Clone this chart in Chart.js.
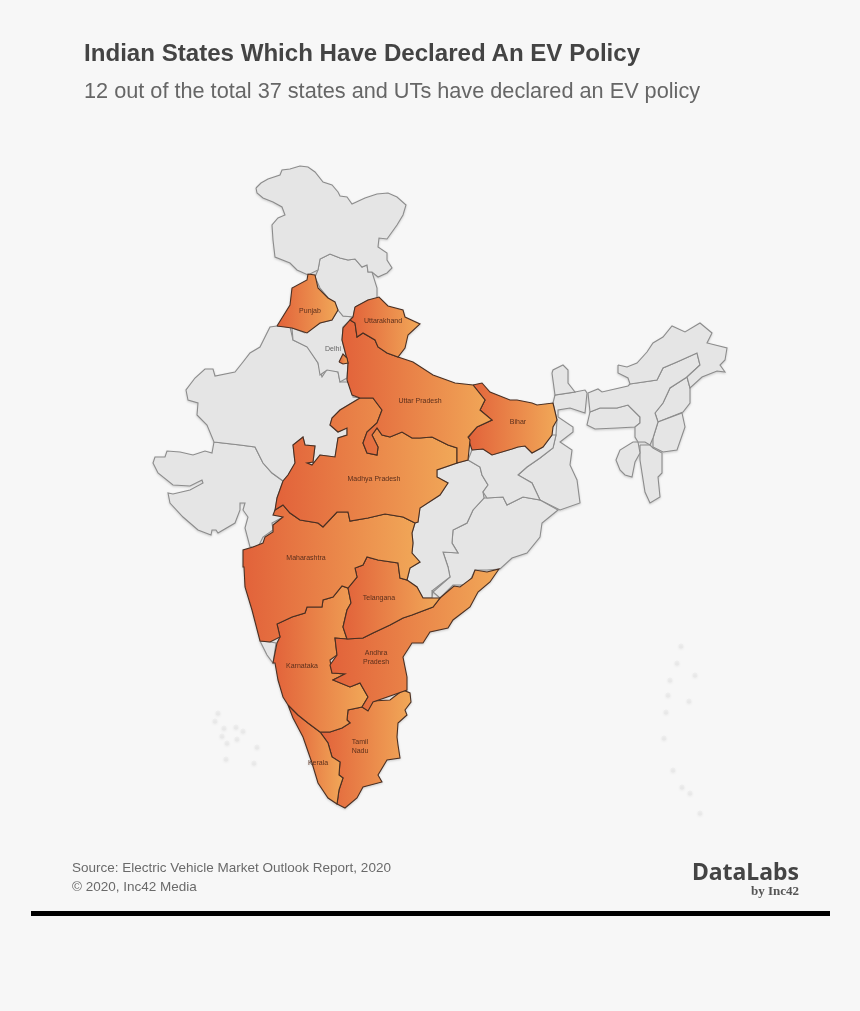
<!DOCTYPE html>
<html>
<head>
<meta charset="utf-8">
<title>Indian States Which Have Declared An EV Policy</title>
<script src="https://cdn.jsdelivr.net/npm/chart.js@4"></script>
<style>
html, body { margin: 0; padding: 0; background: #f7f7f7; }
body { width: 860px; height: 1011px; position: relative; overflow: hidden; font-family: "Liberation Sans", sans-serif; }
#map { position: absolute; left: 0; top: 0; filter: drop-shadow(0 1px 1px rgba(0,0,0,.18)); }
.txt { position: absolute; white-space: nowrap; }
#head { left: 84px; top: 39px; font-size: 24.1px; font-weight: bold; color: #444; }
#sub { left: 84px; top: 78px; font-size: 21.7px; color: #666; }
#src1 { left: 72px; top: 860px; font-size: 13.5px; color: #6a6a6a; }
#src2 { left: 72px; top: 879px; font-size: 13.5px; color: #6a6a6a; }
#logo1 { right: 61px; top: 855px; font-size: 23px; font-weight: bold; color: #444; font-family: "Noto Sans", sans-serif; }
#logo2 { right: 61px; top: 883px; font-size: 13px; font-weight: bold; color: #555; font-family: "Liberation Serif", serif; }
#rule { position: absolute; left: 31px; top: 911px; width: 799px; height: 5px; background: #000; }
</style>
</head>
<body>
<canvas id="map" width="860" height="1011"></canvas>
<div class="txt" id="head">Indian States Which Have Declared An EV Policy</div>
<div class="txt" id="sub">12 out of the total 37 states and UTs have declared an EV policy</div>
<div class="txt" id="src1">Source: Electric Vehicle Market Outlook Report, 2020</div>
<div class="txt" id="src2">© 2020, Inc42 Media</div>
<div class="txt" id="logo1">DataLabs</div>
<div class="txt" id="logo2">by Inc42</div>
<div id="rule"></div>
<script>
// outlines, as x,y map units
var jammuKashmir = [256,188,261,183,268,179,280,175,282,170,290,169,300,166,308,167,315,172,323,182,332,185,338,192,340,196,347,197,352,204,365,198,377,194,388,193,397,197,406,205,403,215,397,225,392,232,387,239,379,238,378,247,387,253,387,260,392,268,387,273,378,277,372,272,368,272,367,265,362,267,355,259,348,260,340,258,330,254,320,259,318,270,308,275,297,270,290,263,275,257,273,240,272,225,278,218,285,215,282,207,273,202,263,198,257,193,256,188];
var himachal = [318,270,320,259,330,254,340,258,348,260,355,259,362,267,367,265,368,272,372,272,377,288,377,300,368,300,355,307,353,317,343,316,338,310,330,300,320,288,315,277,318,270];
var haryana = [338,310,343,316,353,317,350,320,343,327,342,340,348,363,347,378,340,382,338,372,327,370,320,375,318,363,307,347,293,340,292,328,305,333,320,323,332,320,338,310];
var rajasthan = [277,326,270,327,266,335,260,347,250,353,243,362,235,372,215,376,213,369,205,369,195,378,186,390,188,400,198,403,197,415,207,425,214,442,240,445,255,447,263,463,272,473,283,481,288,475,295,463,293,445,303,437,305,445,315,446,313,462,307,463,312,465,320,455,335,457,338,438,347,435,347,428,338,432,330,425,332,418,340,410,360,398,353,397,352,385,347,382,340,382,338,372,328,368,322,377,318,363,308,347,293,340,290,327,277,326];
var gujarat = [214,442,212,453,205,451,193,455,180,452,167,451,165,457,155,457,153,463,158,473,173,485,190,486,202,480,203,483,190,490,173,494,168,493,170,503,183,517,198,530,211,535,212,530,216,530,218,533,235,523,240,510,240,503,245,503,243,510,248,517,245,528,250,547,258,547,263,537,273,530,272,523,283,517,275,513,277,498,283,481,272,473,263,463,255,447,240,445,214,442];
var goa = [260,641,270,642,276,643,273,663,267,655,260,641];
var jharkhand = [472,450,483,449,492,455,512,449,518,447,525,446,532,453,543,447,552,435,556,435,553,448,540,458,527,467,518,475,532,483,540,500,523,497,507,505,503,497,487,498,483,492,488,485,482,475,480,467,468,460,472,450];
var chhattisgarh = [457,463,468,460,480,467,482,475,488,485,483,492,484,498,473,510,467,523,453,530,452,543,458,553,443,552,448,567,450,577,433,590,432,598,423,598,417,587,407,580,410,568,420,562,412,553,413,543,412,533,415,523,418,522,420,508,440,495,448,483,437,477,437,470,457,463];
var odisha = [484,498,487,498,503,497,507,505,523,497,540,500,558,510,542,523,540,537,527,553,512,558,500,569,487,570,475,570,468,585,453,585,440,598,433,592,450,577,448,567,443,552,458,553,452,543,453,530,467,523,473,510,484,498];
var sikkim = [552,373,553,370,563,365,568,370,568,383,575,392,555,395,552,373];
var westBengal = [555,395,575,392,585,390,587,393,585,413,570,408,558,410,558,417,573,427,573,432,560,442,572,450,570,465,577,480,580,503,560,510,540,500,532,483,518,475,527,467,540,458,553,448,556,435,557,420,553,403,555,395];
var arunachal = [618,365,627,367,637,363,647,352,653,343,663,337,672,326,685,332,700,323,712,333,707,343,727,348,725,360,720,365,725,372,717,371,702,377,690,388,687,377,700,365,697,353,677,362,663,368,657,380,630,384,628,378,618,373,618,365];
var assam = [588,393,598,389,602,392,628,386,630,384,657,380,663,368,677,362,697,353,700,365,687,377,670,388,663,403,655,413,658,422,653,438,650,445,645,442,638,442,635,437,635,427,640,423,640,417,628,405,617,408,600,408,590,412,588,393];
var meghalaya = [590,412,600,408,617,408,628,405,640,417,640,423,635,427,617,428,595,429,587,425,590,412];
var tripura = [638,442,640,453,635,462,632,477,625,475,620,470,616,460,620,450,633,442,638,442];
var mizoram = [640,445,650,445,653,448,662,453,662,473,658,477,660,497,650,503,645,492,640,460,640,445];
var manipur = [653,438,658,422,682,413,685,427,677,450,663,452,653,447,653,438];
var nagaland = [658,422,655,413,663,403,670,388,687,377,690,388,690,403,683,412,658,422];

var punjab = [277,326,290,305,292,288,307,280,308,274,315,275,318,288,328,298,335,302,338,310,332,320,320,323,307,333,292,328,277,326];
var delhi = [339,362,343,354,347,358,348,363,343,364,339,362];
var uttarakhand = [355,307,368,300,379,297,388,306,403,310,405,317,420,324,408,335,405,348,398,357,387,353,378,347,375,340,363,333,357,337,355,323,350,320,353,317,355,307];
var uttarPradesh = [350,320,343,328,342,340,348,363,347,380,352,395,360,398,373,398,382,410,377,423,367,432,363,443,367,453,377,455,378,447,372,435,377,428,382,435,390,437,402,432,412,438,420,438,432,437,448,445,457,448,457,463,468,460,470,440,468,437,477,427,492,420,480,410,485,400,473,385,455,383,433,375,413,362,398,357,387,353,378,347,375,340,363,333,357,337,355,323,350,320];
var madhyaPradesh = [360,398,373,398,382,410,377,423,367,432,363,443,367,453,377,455,378,447,372,435,377,428,382,435,390,437,402,432,412,438,420,438,432,437,448,445,457,448,457,463,437,470,437,477,448,483,440,495,420,508,418,522,415,523,403,517,385,514,368,518,350,521,348,512,337,512,323,527,318,523,300,520,290,513,283,505,275,510,277,498,283,481,288,475,295,463,293,445,303,437,305,445,315,446,313,462,307,463,312,465,320,455,335,457,338,438,347,435,347,428,338,432,330,425,332,418,340,410,360,398];
var bihar = [473,385,482,383,490,392,510,400,517,400,532,403,537,405,553,403,557,420,553,427,552,435,543,447,532,453,525,446,518,447,512,449,492,455,483,449,472,450,468,438,477,427,492,420,480,410,485,400,473,385];
var maharashtra = [275,510,283,505,290,513,300,520,318,523,323,527,337,512,348,512,350,521,368,518,385,514,403,517,415,523,412,533,413,543,412,553,420,562,410,568,407,580,400,578,398,563,378,560,367,557,363,565,355,568,357,577,348,588,342,586,333,597,323,600,322,607,307,607,305,613,292,617,277,624,280,637,270,642,260,641,252,610,245,587,244,567,243,550,253,547,263,543,265,537,273,532,273,525,283,517,273,515,275,510];
var telangana = [367,557,378,560,398,563,400,578,407,580,417,587,423,598,440,598,433,607,412,615,403,618,390,625,373,633,363,638,347,639,343,627,347,610,351,603,348,588,357,577,355,568,363,565,367,557];
var andhraPradesh = [347,639,363,638,373,633,390,625,403,618,412,615,433,607,440,598,454,586,460,587,472,578,475,570,487,572,499,569,490,582,478,592,470,607,453,620,448,628,430,632,423,643,412,643,403,657,407,677,407,690,393,695,373,702,368,711,362,707,368,697,360,683,350,687,333,680,345,674,332,673,330,665,337,655,335,638,347,639];
var karnataka = [348,588,351,603,347,610,343,627,347,639,335,638,337,655,330,660,332,673,345,674,333,680,350,687,360,683,368,697,362,707,348,710,347,720,350,723,342,728,330,732,320,732,308,723,298,715,288,705,283,697,278,680,275,663,273,663,277,643,280,637,277,624,292,617,305,613,307,607,322,607,323,600,333,597,342,586,348,588];
var kerala = [288,705,298,715,308,723,320,732,328,743,332,757,340,762,339,775,343,778,339,790,337,804,328,798,318,783,312,763,303,737,293,718,288,705];
var tamilNadu = [320,732,330,732,342,728,350,723,347,720,348,710,362,707,368,710,373,701,390,700,403,690,410,693,411,702,405,710,407,715,398,723,397,737,398,745,400,758,387,760,378,775,382,782,363,787,357,798,345,808,337,804,339,790,343,778,339,775,340,762,332,757,328,743,320,732];

var islands = [670,680,668,695,666,712,664,738,682,787,690,793,700,813,677,663,681,646,695,675,689,701,673,770,218,713,215,721,224,728,222,736,236,727,243,731,237,739,227,743,226,759,257,747,254,763];

var otherStates = [jammuKashmir, himachal, haryana, rajasthan, gujarat, goa, jharkhand, chhattisgarh, odisha, sikkim, westBengal, arunachal, assam, meghalaya, tripura, mizoram, manipur, nagaland];
var policyStates = [punjab, delhi, uttarakhand, uttarPradesh, madhyaPradesh, bihar, maharashtra, telangana, andhraPradesh, karnataka, kerala, tamilNadu];

var labelNames = [['Punjab'], ['Uttarakhand'], ['Delhi'], ['Uttar Pradesh'], ['Bihar'], ['Madhya Pradesh'], ['Maharashtra'], ['Telangana'], ['Andhra', 'Pradesh'], ['Karnataka'], ['Tamil', 'Nadu'], ['Kerala']];
var labelX = [310, 383, 333, 420, 518, 374, 306, 379, 376, 302, 360, 318];
var labelY = [311, 321, 349, 401, 422, 479, 558, 598, 653, 666, 742, 763];

function toPoints(flat) {
    var pts = [];
    for (var i = 0; i < flat.length; i += 2) {
        pts.push({x: flat[i], y: flat[i + 1]});
    }
    return pts;
}

var datasets = [];
policyStates.forEach(function (s) {
    datasets.push({data: toPoints(s), showLine: true, pointRadius: 0, tension: 0, fill: 'shape', isPolicy: true,
        backgroundColor: '#e8823f', borderColor: '#4a2f22', borderWidth: 1.1});
});
otherStates.forEach(function (s) {
    datasets.push({data: toPoints(s), showLine: true, pointRadius: 0, tension: 0, fill: 'shape',
        backgroundColor: '#e5e5e5', borderColor: '#8c8c8c', borderWidth: 1.1});
});
datasets.push({data: toPoints(islands), showLine: false, pointRadius: 2.5, pointBorderWidth: 0,
    pointBackgroundColor: 'rgba(225,225,225,.3)', backgroundColor: 'rgba(225,225,225,.3)'});

// left to right orange, stretched over each state
var stateGradients = {
    id: 'stateGradients',
    afterLayout: function (chart) {
        var xs = chart.scales.x;
        chart.data.datasets.forEach(function (ds) {
            if (!ds.isPolicy) return;
            var lo = Infinity, hi = -Infinity;
            ds.data.forEach(function (p) { lo = Math.min(lo, p.x); hi = Math.max(hi, p.x); });
            var g = chart.ctx.createLinearGradient(xs.getPixelForValue(lo), 0, xs.getPixelForValue(hi), 0);
            g.addColorStop(0, '#e2623a');
            g.addColorStop(1, '#f1a858');
            ds.backgroundColor = g;
        });
    }
};

var stateLabels = {
    id: 'stateLabels',
    afterDatasetsDraw: function (chart) {
        var ctx = chart.ctx;
        ctx.save();
        ctx.font = '7px "Liberation Sans"';
        ctx.textAlign = 'center';
        ctx.textBaseline = 'middle';
        labelNames.forEach(function (lines, i) {
            ctx.fillStyle = lines[0] === 'Delhi' ? '#666' : '#5b2f1c';
            lines.forEach(function (t, k) {
                ctx.fillText(t, chart.scales.x.getPixelForValue(labelX[i]), chart.scales.y.getPixelForValue(labelY[i] + k * 9));
            });
        });
        ctx.restore();
    }
};

new Chart(document.getElementById('map'), {
    type: 'scatter',
    data: {datasets: datasets},
    plugins: [stateGradients, stateLabels],
    options: {
        responsive: false,
        animation: false,
        layout: {padding: 0, autoPadding: false},
        plugins: {legend: {display: false}, tooltip: {enabled: false}, title: {display: false}},
        scales: {
            x: {type: 'linear', display: false, min: 0, max: 860},
            y: {type: 'linear', display: false, min: 0, max: 1011, reverse: true}
        }
    }
});
</script>
</body>
</html>
